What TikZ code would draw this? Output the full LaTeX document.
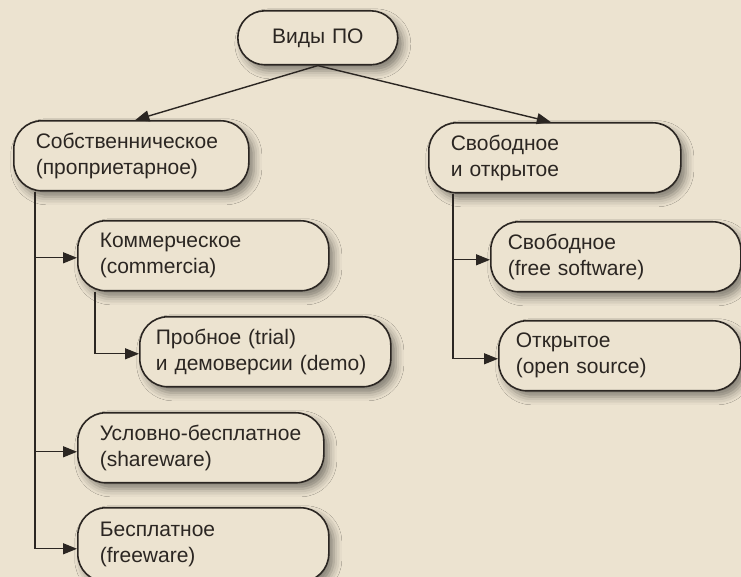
\documentclass[tikz,border=0pt]{standalone}
\usepackage{fontspec}
\setmainfont{Liberation Sans}
\usetikzlibrary{calc,positioning,arrows.meta,shadows.blur}
\definecolor{paper}{HTML}{ECE3D0}
\definecolor{ink}{HTML}{2B2622}

\begin{document}
\begin{tikzpicture}[
  x=0.5pt,y=-0.5pt,
  kind/.style={rectangle,rounded corners=14pt,draw=ink,line width=0.8pt,fill=paper,
    anchor=north west,minimum height=35pt,inner xsep=11pt,inner ysep=2pt,
    align=left,text width=#1,font=\fontsize{10.5}{13}\selectfont,text=ink,
    blur shadow={shadow xshift=2.5pt,shadow yshift=-3pt,shadow blur radius=4pt,shadow opacity=45}},
  link/.style={draw=ink,line width=0.7pt,-{Triangle[length=7pt,width=5.5pt]}},
  ]

  \useasboundingbox (0,0) rectangle (741,577);
  \fill[paper] (0,0) rectangle (741,577);

  \node (kind_root) [kind=58pt,align=center,minimum height=27pt,rounded corners=13.5pt] at (237,10) {Виды ПО};

  \node (kind_prop) [kind=95.5pt] at (13,120) {Собственническое\\(проприетарное)};
  \node (kind_open) [kind=104pt] at (428,122) {Свободное\\и открытое};

  \node (kind_comm) [kind=103.5pt] at (77,220) {Коммерческое\\(commercia)};
  \node (kind_trial) [kind=109.5pt,inner xsep=8pt] at (139,316) {Пробное (trial)\\и демоверсии (demo)};
  \node (kind_share) [kind=101pt] at (77,412) {Условно-бесплатное\\(shareware)};
  \node (kind_free) [kind=103.5pt,minimum height=37pt] at (77,507) {Бесплатное\\(freeware)};

  \node (kind_fsw) [kind=108pt,inner xsep=8.5pt] at (490,221) {Свободное\\(free software)};
  \node (kind_oss) [kind=104pt,inner xsep=8.5pt] at (498,320) {Открытое\\(open source)};

  % root to the two groups
  \draw[link] (kind_root.south) -- ($(kind_prop.north)+(4,0)$);
  \draw[link] (kind_root.south) -- ($(kind_open.north)+(-4,0)$);

  % proprietary branch
  \draw[link] ($(kind_prop.south west)+(22,0)$) |- ($(kind_comm.west)+(0,2)$);
  \draw[link] ($(kind_prop.south west)+(22,0)$) |- ($(kind_share.west)+(0,4)$);
  \draw[link] ($(kind_prop.south west)+(22,0)$) |- ($(kind_free.west)+(0,4)$);
  \draw[link] ($(kind_comm.south west)+(18,0)$) |- ($(kind_trial.west)+(0,2)$);

  % open branch
  \draw[link] ($(kind_open.south west)+(25,0)$) |- ($(kind_fsw.west)+(0,3)$);
  \draw[link] ($(kind_open.south west)+(25,0)$) |- ($(kind_oss.west)+(0,3)$);

\end{tikzpicture}
\end{document}
